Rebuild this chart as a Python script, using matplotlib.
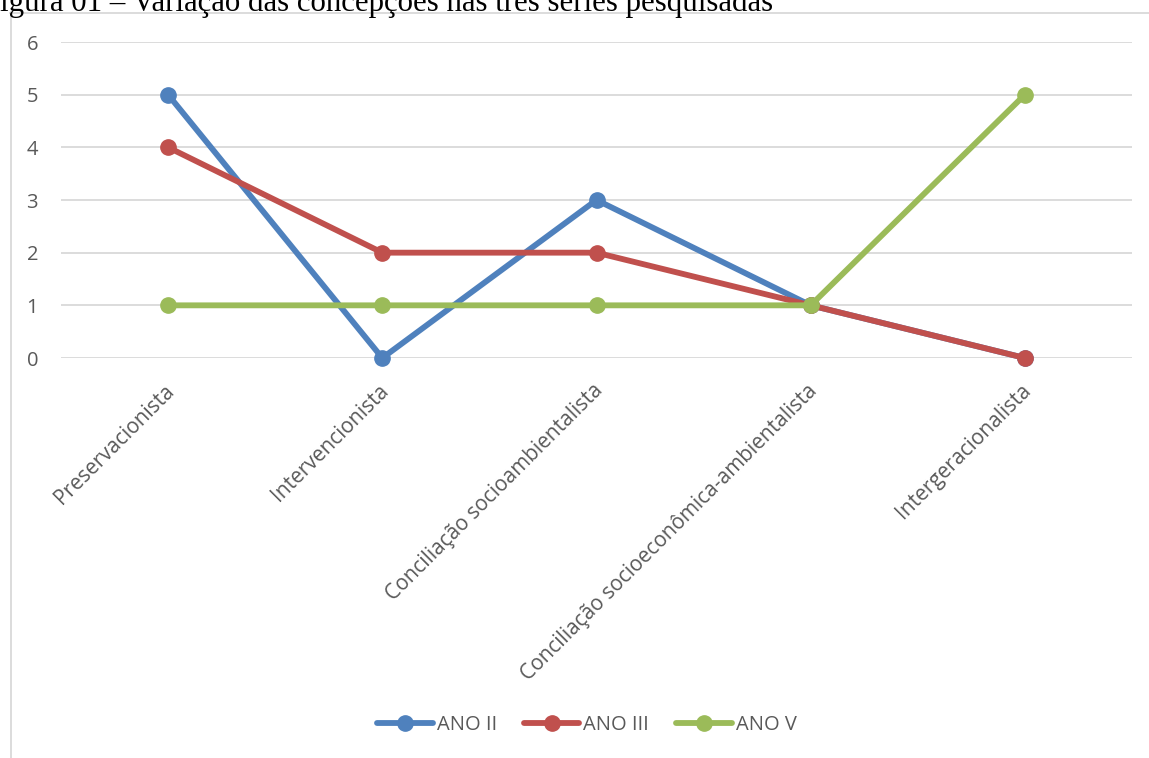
import numpy as np
import matplotlib.pyplot as plt
import matplotlib.transforms as mtransforms
from matplotlib.lines import Line2D

categories = ["Preservacionista", "Intervencionista", "Conciliação socioambientalista",
              "Conciliação socioeconômica-ambientalista", "Intergeracionalista"]
ano_ii = [5, 0, 3, 1, 0]
ano_iii = [4, 2, 2, 1, 0]
ano_v = [1, 1, 1, 1, 5]
series = [("ANO II", ano_ii, "#4F81BD"), ("ANO III", ano_iii, "#C0504D"), ("ANO V", ano_v, "#9BBB59")]
title = "igura 01 – Variação das concepções nas três séries pesquisadas"

W, H = 1149, 758
plt.rcParams['font.family'] = ['Open Sans', 'DejaVu Sans']

fig = plt.figure(figsize=(W / 100, H / 100), dpi=100)
ax = fig.add_axes([61 / W, 1 - 358 / H, (1132 - 61) / W, (358 - 42) / H])

x = np.arange(len(categories))
for name, vals, col in series:
    ax.plot(x, vals, color=col, linewidth=4.2, marker='o', markersize=11,
            solid_capstyle='round', label=name, clip_on=False, zorder=3)

ax.set_xlim(-0.5, len(categories) - 0.5)
ax.set_ylim(0, 6)
ax.set_yticks(range(7))
ax.grid(axis='y', color='#D9D9D9', linewidth=1.3)
ax.set_axisbelow(True)
for s in ax.spines.values():
    s.set_visible(False)
ax.tick_params(axis='both', length=0, labelsize=14.5, labelcolor='#595959')
ax.tick_params(axis='y', pad=16.5)
ax.set_xticks(x)
ax.set_xticklabels(categories, rotation=45, ha='right', rotation_mode='anchor', fontsize=15)
ax.tick_params(axis='x', pad=16)

# nudge the rotated labels a little to the left
shift = mtransforms.ScaledTranslation(-4 / 100, 0, fig.dpi_scale_trans)
for lbl in ax.get_xticklabels():
    lbl.set_transform(lbl.get_transform() + shift)

# chart frame
fig.add_artist(Line2D([10.5 / W, 10.5 / W], [0, 1 - 12 / H], color='#D9D9D9', linewidth=1.3))
fig.add_artist(Line2D([10 / W, 1], [1 - 12.5 / H, 1 - 12.5 / H], color='#D9D9D9', linewidth=1.3))

fig.text(0, 1 - 11 / H, title, family='Liberation Serif', fontsize=22.2, va='baseline', ha='left')

fig.legend(loc='center', bbox_to_anchor=(587 / W, 1 - 725 / H), ncol=3, frameon=False,
           fontsize=14.5, labelcolor='#595959', handlelength=2.75, handletextpad=0.2,
           columnspacing=1.35)

fig.savefig("out.png", dpi=100)
